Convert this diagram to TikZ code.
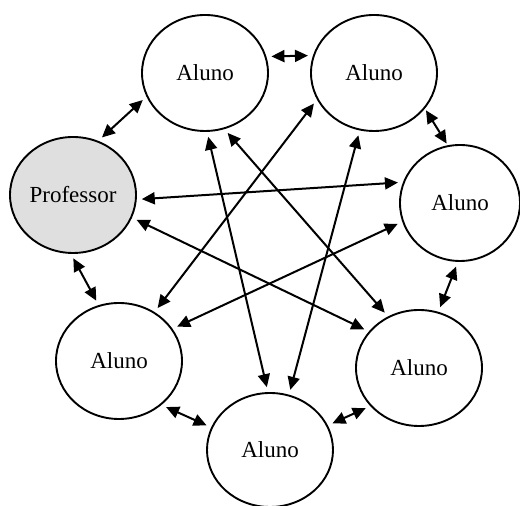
\documentclass[tikz,border=0pt]{standalone}
\usepackage{fontspec}
\setmainfont{Liberation Serif}
\usetikzlibrary{shapes.geometric,arrows.meta}

\begin{document}
\begin{tikzpicture}[x=0.5pt, y=-0.5pt, line cap=round, line join=round,
    person/.style={ellipse, draw, line width=0.95pt, inner sep=0pt,
      minimum width=63pt, minimum height=58pt,
      font=\fontsize{11.5}{13}\selectfont},
    link/.style={{Triangle[length=6.5pt,width=6pt]}-{Triangle[length=6.5pt,width=6pt]},
      line width=1pt, shorten <=2.5pt, shorten >=2.5pt}]

    \useasboundingbox (0,0) rectangle (520,506);

    % --- 1. Teacher and students ---
    \node[person, fill=gray!25] (prof) at (73,195) {Professor};
    \node[person] (aluno1) at (205,73) {Aluno};
    \node[person] (aluno2) at (374,73) {Aluno};
    \node[person, minimum width=60pt] (aluno3) at (460,203) {Aluno};
    \node[person] (aluno4) at (419,368) {Aluno};
    \node[person, minimum height=57pt] (aluno5) at (270,450) {Aluno};
    \node[person] (aluno6) at (119,361) {Aluno};

    % --- 2. Links round the circle ---
    \foreach \s/\t in {prof.65/aluno1.202, aluno1.15/aluno2.164,
        aluno3.268/aluno4.71, aluno4.218/aluno5.23,
        aluno5.159/aluno6.314, aluno6.110/prof.268}
      \draw[link] (\s) -- (\t);
    \draw[link, shorten <=1pt, shorten >=1pt] (aluno2.325) -- (aluno3.102);

    % --- 3. Links across the circle ---
    \foreach \s/\t in {prof.356/aluno3.160, prof.339/aluno4.144,
        aluno1.272/aluno5.92, aluno1.289/aluno4.121,
        aluno2.256/aluno5.71, aluno2.205/aluno6.54, aluno3.198/aluno6.31}
      \draw[link] (\s) -- (\t);
  \end{tikzpicture}
\end{document}
